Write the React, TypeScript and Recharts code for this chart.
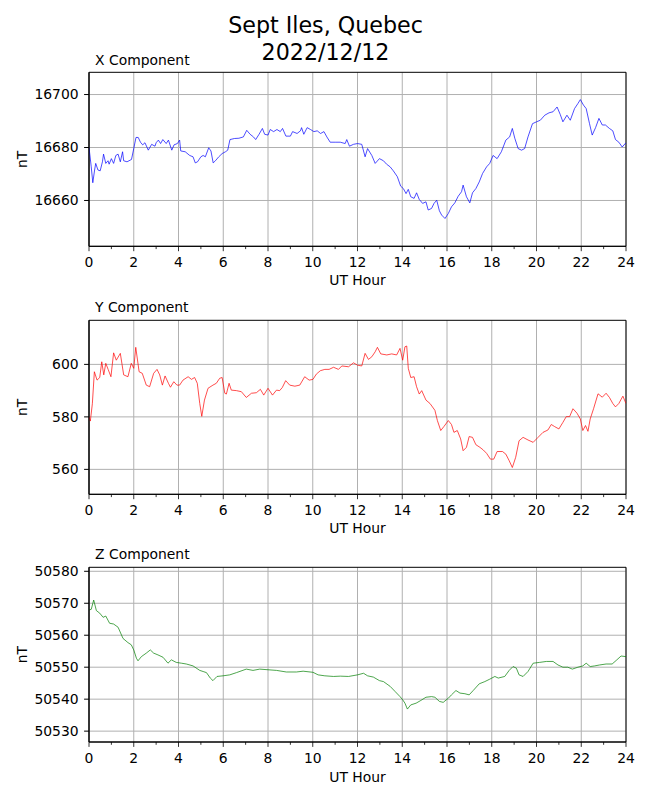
import React from 'react';
import { LineChart, Line, XAxis, YAxis, CartesianGrid, ReferenceArea } from 'recharts';

const FONT = '"DejaVu Sans", sans-serif';

const hourTicks = [0, 1, 2, 3, 4, 5, 6, 7, 8, 9, 10, 11, 12, 13, 14, 15, 16, 17, 18, 19, 20, 21, 22, 23, 24];
const majorHours = [0, 2, 4, 6, 8, 10, 12, 14, 16, 18, 20, 22, 24];

const xTicks = [16660, 16680, 16700];
const yTicks = [560, 580, 600];
const zTicks = [50530, 50540, 50550, 50560, 50570, 50580];

const xHours = [0, 0.1, 0.17, 0.25, 0.3, 0.4, 0.5, 0.6, 0.65, 0.75, 0.85, 0.9, 1.0, 1.1, 1.2, 1.3, 1.4, 1.5, 1.55, 1.7, 1.9, 2.0, 2.1, 2.2, 2.3, 2.4, 2.5, 2.65, 2.8, 2.95, 3.0, 3.1, 3.2, 3.3, 3.45, 3.55, 3.7, 3.8, 3.95, 4.05, 4.1, 4.3, 4.5, 4.65, 4.75, 4.85, 5.0, 5.1, 5.2, 5.35, 5.45, 5.55, 5.65, 5.8, 5.95, 6.1, 6.2, 6.3, 6.5, 6.7, 6.9, 7.05, 7.2, 7.35, 7.45, 7.6, 7.75, 7.85, 8.0, 8.1, 8.25, 8.4, 8.55, 8.65, 8.8, 9.0, 9.1, 9.3, 9.45, 9.5, 9.6, 9.75, 9.9, 10.05, 10.2, 10.35, 10.5, 10.63, 10.78, 11.0, 11.23, 11.45, 11.52, 11.64, 11.82, 12.0, 12.19, 12.34, 12.45, 12.64, 12.79, 12.98, 13.16, 13.3, 13.46, 13.6, 13.78, 13.93, 14.05, 14.17, 14.27, 14.38, 14.53, 14.64, 14.76, 14.91, 15.06, 15.16, 15.31, 15.42, 15.54, 15.66, 15.76, 15.91, 16.06, 16.2, 16.35, 16.5, 16.65, 16.72, 16.87, 17.02, 17.14, 17.29, 17.44, 17.59, 17.77, 17.91, 18.06, 18.24, 18.43, 18.63, 18.8, 18.92, 19.03, 19.18, 19.33, 19.47, 19.62, 19.82, 20.0, 20.17, 20.37, 20.56, 20.74, 20.92, 21.06, 21.18, 21.36, 21.51, 21.7, 21.85, 21.96, 22.1, 22.22, 22.37, 22.49, 22.64, 22.79, 22.94, 23.08, 23.26, 23.41, 23.53, 23.68, 23.83, 24.0];
const xValues = [16680, 16672.7, 16666.7, 16671.5, 16674, 16671.5, 16671.2, 16674.6, 16677.5, 16674, 16675, 16673.7, 16675.8, 16674, 16677, 16677.5, 16674.6, 16678.4, 16675, 16674.6, 16675.5, 16679.6, 16683.8, 16683.8, 16682, 16681, 16681.8, 16679, 16681.2, 16680.5, 16681.8, 16682.8, 16681.5, 16683, 16681.5, 16682.8, 16679, 16681, 16681.5, 16682.8, 16678.7, 16678.4, 16677, 16676.5, 16674.2, 16674.6, 16676.5, 16677, 16676.5, 16679.9, 16678.7, 16674.2, 16675, 16676.5, 16677.7, 16678.4, 16679, 16683, 16683.4, 16683.5, 16684, 16686.5, 16685, 16684, 16683, 16685, 16687.2, 16685, 16684.7, 16686.8, 16686, 16686.8, 16686, 16687.2, 16684.3, 16684.3, 16686, 16685.3, 16686.3, 16687.5, 16685, 16687.5, 16686.8, 16686, 16686.3, 16685.3, 16686, 16684, 16682, 16682, 16682, 16681.5, 16683, 16680.5, 16681.2, 16681.5, 16681.2, 16676.5, 16679.6, 16677, 16674, 16675.8, 16675, 16673.7, 16672.7, 16671.2, 16669, 16665.4, 16664.5, 16662.6, 16664.2, 16661.4, 16660.8, 16662.9, 16660.4, 16658.9, 16659.5, 16656.4, 16657, 16658.9, 16660.1, 16656.1, 16654.5, 16653.2, 16655.1, 16657.6, 16659.1, 16661.6, 16663.3, 16665.8, 16661.4, 16659.1, 16662.9, 16664.5, 16667, 16670.2, 16672.7, 16674, 16677, 16675.8, 16678.4, 16682.8, 16684, 16687.2, 16683.5, 16679.6, 16679, 16679.6, 16684, 16689, 16689.7, 16690.3, 16692.2, 16693.1, 16693.5, 16695.3, 16692.5, 16689.7, 16692.2, 16690.3, 16694.7, 16696.6, 16698.1, 16696, 16694.7, 16689, 16684.7, 16687.5, 16691, 16688.5, 16688.5, 16687.2, 16686.3, 16683, 16682, 16680.2, 16681.8];

const yHours = [0, 0.06, 0.15, 0.24, 0.36, 0.48, 0.57, 0.66, 0.75, 0.86, 0.98, 1.1, 1.22, 1.4, 1.55, 1.74, 1.89, 2.0, 2.09, 2.24, 2.38, 2.56, 2.71, 2.89, 3.04, 3.16, 3.28, 3.4, 3.55, 3.64, 3.79, 3.93, 4.05, 4.2, 4.43, 4.58, 4.72, 4.84, 4.95, 5.04, 5.16, 5.32, 5.54, 5.69, 5.84, 5.95, 6.07, 6.14, 6.26, 6.36, 6.59, 6.81, 7.03, 7.26, 7.48, 7.66, 7.81, 8.0, 8.2, 8.38, 8.52, 8.64, 8.79, 8.97, 9.2, 9.42, 9.64, 9.84, 10.01, 10.16, 10.34, 10.54, 10.73, 10.93, 11.15, 11.3, 11.6, 11.82, 12.0, 12.19, 12.34, 12.49, 12.64, 12.79, 12.89, 13.04, 13.31, 13.53, 13.75, 13.9, 14.02, 14.12, 14.2, 14.27, 14.38, 14.53, 14.64, 14.76, 14.87, 15.06, 15.24, 15.46, 15.57, 15.72, 15.86, 16.06, 16.2, 16.31, 16.46, 16.61, 16.72, 16.87, 16.99, 17.14, 17.29, 17.47, 17.62, 17.77, 17.94, 18.09, 18.24, 18.48, 18.63, 18.78, 18.92, 19.07, 19.22, 19.4, 19.62, 19.85, 20.07, 20.29, 20.51, 20.66, 20.81, 21.0, 21.18, 21.33, 21.48, 21.63, 21.81, 21.96, 22.07, 22.19, 22.3, 22.4, 22.55, 22.75, 22.94, 23.11, 23.26, 23.41, 23.53, 23.68, 23.86, 24.0];
const yValues = [580, 578.4, 585, 597.2, 594, 595, 601, 596, 600.4, 598, 595.3, 604.4, 601.6, 604.2, 596, 595.3, 600.4, 598.5, 606.5, 597.2, 596.6, 592.1, 591.5, 596.6, 598.1, 596, 592.1, 595.6, 592.8, 591.3, 593.4, 592.1, 592.1, 594, 595.3, 594.3, 595, 592.8, 585.1, 580.2, 586.4, 590.9, 592.1, 592.8, 594.7, 595, 589, 588.7, 592.8, 590.2, 590, 589.6, 587.4, 589, 589.2, 590.5, 588.3, 590.9, 588.3, 590.2, 590, 591.2, 593.8, 592.1, 591.7, 592.1, 595.3, 594, 594.3, 596.3, 597.6, 598.1, 598.1, 598.9, 598.1, 599.4, 599.1, 600.6, 599.7, 599.4, 604.2, 601.9, 602.9, 604.8, 606.5, 604, 603.6, 604, 603.6, 606.1, 601.6, 606.7, 607, 598.5, 595, 595.3, 591.5, 588.7, 590, 586.4, 585.1, 582.5, 578.6, 574.8, 576.3, 578.6, 577.1, 574.1, 574.8, 571.6, 567.1, 568.4, 572.5, 572.2, 569.4, 568.4, 567.4, 566.1, 563.9, 563.9, 566.8, 566.8, 565.8, 563.3, 560.7, 564.6, 570.9, 572.2, 571.2, 570.3, 572.2, 574.1, 575, 577.1, 576.3, 575.4, 577.9, 580.1, 580.1, 583.1, 581.4, 579.2, 574.8, 576.7, 574.5, 579.2, 583.1, 588.8, 587.5, 589, 587.4, 585.1, 583.8, 585.1, 587.9, 585.1];

const zHours = [0, 0.1, 0.21, 0.33, 0.48, 0.63, 0.75, 0.92, 1.1, 1.3, 1.52, 1.74, 1.89, 2.0, 2.12, 2.19, 2.34, 2.56, 2.74, 2.89, 3.08, 3.31, 3.53, 3.68, 3.9, 4.13, 4.35, 4.65, 4.95, 5.1, 5.25, 5.42, 5.54, 5.72, 5.99, 6.29, 6.59, 7.03, 7.33, 7.63, 8.0, 8.38, 8.82, 9.27, 9.57, 10.01, 10.24, 10.54, 10.93, 11.23, 11.6, 12.0, 12.27, 12.45, 12.71, 12.98, 13.16, 13.46, 13.68, 13.9, 14.02, 14.12, 14.23, 14.38, 14.62, 14.83, 15.06, 15.31, 15.46, 15.66, 15.83, 16.06, 16.2, 16.4, 16.58, 16.8, 16.99, 17.17, 17.44, 17.69, 17.91, 18.14, 18.29, 18.58, 18.78, 18.95, 19.1, 19.22, 19.4, 19.62, 19.85, 20.14, 20.44, 20.74, 20.96, 21.18, 21.4, 21.6, 21.85, 22.07, 22.22, 22.4, 22.6, 22.82, 23.11, 23.38, 23.56, 23.78, 24.0];
const zValues = [50567.9, 50568.1, 50571, 50567.7, 50566.9, 50565.6, 50566, 50563.75, 50563.5, 50562.5, 50559, 50557.7, 50557, 50555.4, 50552.8, 50552, 50553.3, 50554.4, 50555.4, 50554.4, 50553.85, 50553.1, 50551.25, 50552.3, 50551.5, 50551.25, 50551, 50550.4, 50549, 50548.65, 50548.3, 50546.6, 50545.8, 50547.1, 50547.3, 50547.6, 50548.3, 50549.4, 50549, 50549.4, 50549.2, 50549, 50548.5, 50548.5, 50548.75, 50548.4, 50547.6, 50547.3, 50547.1, 50547.2, 50547.1, 50547.6, 50548.1, 50547.3, 50546.9, 50545.8, 50545.5, 50544, 50542.4, 50540.8, 50539.8, 50538.75, 50536.9, 50538.2, 50538.75, 50539.6, 50540.6, 50540.8, 50540.6, 50539.3, 50539, 50540.3, 50541.35, 50542.7, 50541.9, 50541.7, 50541.35, 50542.7, 50544.8, 50545.5, 50546.25, 50547.1, 50546.6, 50547.1, 50549, 50550.2, 50549.7, 50547.6, 50547.1, 50548.65, 50551.25, 50551.5, 50551.8, 50551.8, 50550.7, 50550, 50550, 50549.4, 50550, 50550.4, 50551.25, 50550.2, 50550.4, 50550.7, 50551, 50551, 50552.1, 50553.5, 50553.3];

const TICK_SIZE = 5;
const TICK_MARGIN = 7;

const HourTick = (props: any) => {
  const { x, y, payload } = props;
  const v = payload.value;
  const axisY = y - TICK_SIZE - TICK_MARGIN;
  const major = v % 2 === 0;
  return (
    <g>
      <line x1={x} x2={x} y1={axisY} y2={axisY + (major ? 4.9 : 2.8)} stroke="#000" strokeWidth={0.8} />
      {major && (
        <text x={x} y={axisY + 21} textAnchor="middle" fontSize={13.9} fontFamily={FONT} fill="#000">
          {v}
        </text>
      )}
    </g>
  );
};

type PanelProps = {
  hours: number[];
  values: number[];
  color: string;
  domain: [number, number];
  ticks: number[];
  top: number;
  height: number;
  marginTop: number;
  plotHeight: number;
};

const Panel = ({ hours, values, color, domain, ticks, top, height, marginTop, plotHeight }: PanelProps) => {
  const data = hours.map((h, i) => ({ h, v: values[i] }));
  const xAxisHeight = height - marginTop - plotHeight;
  return (
    <div style={{ position: 'absolute', left: 0, top }}>
      <LineChart width={650} height={height} data={data} margin={{ top: marginTop, right: 24, bottom: 0, left: 0 }}>
        <CartesianGrid stroke="#b0b0b0" strokeWidth={1} verticalValues={majorHours} horizontalValues={ticks} />
        <XAxis
          dataKey="h"
          type="number"
          domain={[0, 24]}
          ticks={hourTicks}
          interval={0}
          allowDataOverflow
          height={xAxisHeight}
          tickSize={TICK_SIZE}
          tickMargin={TICK_MARGIN}
          tickLine={false}
          stroke="#000"
          tick={<HourTick />}
        />
        <YAxis
          type="number"
          domain={domain}
          ticks={ticks}
          interval={0}
          allowDataOverflow
          width={89}
          tickSize={4.9}
          tickMargin={5.5}
          stroke="#000"
          tick={{ fill: '#000', fontSize: 13.9, fontFamily: FONT }}
        />
        <ReferenceArea x1={0} x2={24} y1={domain[0]} y2={domain[1]} fill="none" fillOpacity={0} stroke="#000" strokeWidth={1} />
        <Line type="linear" dataKey="v" stroke={color} strokeWidth={0.7} dot={false} isAnimationActive={false} />
      </LineChart>
    </div>
  );
};

const textStyle = { fontFamily: FONT, fill: '#000' } as const;

export default function App() {
  return (
    <div style={{ position: 'absolute', left: 0, top: 0, width: 650, height: 800, background: '#fff' }}>
      <Panel hours={xHours} values={xValues} color="#0000ff" domain={[16642.7, 16708.4]} ticks={xTicks} top={0} height={290} marginTop={72.3} plotHeight={174} />
      <Panel hours={yHours} values={yValues} color="#ff0000" domain={[550.5, 616.8]} ticks={yTicks} top={290} height={250} marginTop={30.3} plotHeight={174} />
      <Panel hours={zHours} values={zValues} color="#008000" domain={[50526.6, 50581.25]} ticks={zTicks} top={540} height={260} marginTop={27.3} plotHeight={174.7} />
      <svg width={650} height={800} style={{ position: 'absolute', left: 0, top: 0, pointerEvents: 'none' }}>
        <text x={325.5} y={33.3} textAnchor="middle" fontSize={22.2} {...textStyle}>Sept Iles, Quebec</text>
        <text x={325.5} y={60} textAnchor="middle" fontSize={22.2} {...textStyle}>2022/12/12</text>

        <text x={95} y={65} fontSize={13.9} {...textStyle}>X Component</text>
        <text x={95} y={312} fontSize={13.9} {...textStyle}>Y Component</text>
        <text x={95} y={559} fontSize={13.9} {...textStyle}>Z Component</text>

        <text x={357.5} y={285.3} textAnchor="middle" fontSize={13.9} {...textStyle}>UT Hour</text>
        <text x={357.5} y={533.3} textAnchor="middle" fontSize={13.9} {...textStyle}>UT Hour</text>
        <text x={357.5} y={781.7} textAnchor="middle" fontSize={13.9} {...textStyle}>UT Hour</text>

        <text x={22} y={159.3} textAnchor="middle" dominantBaseline="central" fontSize={13.9} transform="rotate(-90 22 159.3)" {...textStyle}>nT</text>
        <text x={22} y={407.3} textAnchor="middle" dominantBaseline="central" fontSize={13.9} transform="rotate(-90 22 407.3)" {...textStyle}>nT</text>
        <text x={22} y={654.6} textAnchor="middle" dominantBaseline="central" fontSize={13.9} transform="rotate(-90 22 654.6)" {...textStyle}>nT</text>
      </svg>
    </div>
  );
}
